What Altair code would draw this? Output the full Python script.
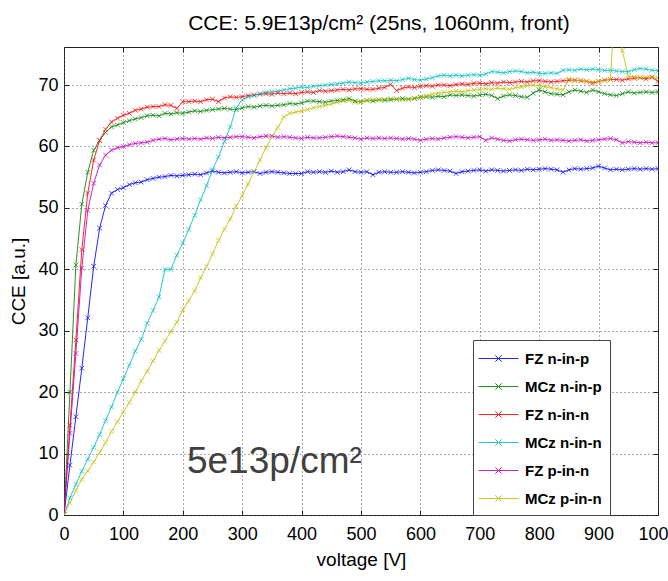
import altair as alt
import pandas as pd

voltage = list(range(0, 1001, 10))

fz_n_in_p = [0, 8.1, 16.0, 23.9, 32.1, 40.5, 46.7, 50.4, 52.4, 53.0, 53.3,
             53.8, 54.1, 54.2, 54.6, 54.8, 55.0, 55.1, 55.3, 55.2, 55.3,
             55.4, 55.5, 55.4, 55.7, 56.0, 55.8, 55.7, 55.8, 55.9, 55.7,
             55.8, 55.9, 55.6, 55.8, 55.9, 55.8, 55.7, 55.6, 55.6, 55.6,
             55.9, 55.8, 55.9, 55.8, 56.0, 55.8, 55.9, 56.2, 55.9, 55.8,
             55.9, 55.4, 55.8, 55.9, 55.8, 55.8, 55.9, 55.8, 55.7, 55.8,
             55.9, 56.1, 56.2, 56.1, 56.0, 55.6, 55.9, 56.0, 56.1, 56.2,
             56.0, 56.2, 56.1, 56.0, 56.1, 56.2, 56.1, 56.3, 56.2, 56.3,
             56.4, 56.3, 56.2, 55.8, 56.2, 56.4, 56.3, 56.4, 56.5, 56.8,
             56.5, 56.2, 56.3, 56.2, 56.3, 56.4, 56.3, 56.4, 56.3, 56.4]

mcz_n_in_p = [0, 20.0, 40.7, 50.6, 55.8, 59.4, 61.0, 62.3, 63.2, 63.5, 63.9,
              64.2, 64.5, 64.7, 65.0, 65.1, 65.0, 65.4, 65.3, 65.5, 65.4,
              65.6, 65.8, 65.7, 65.9, 66.0, 66.1, 66.2, 66.1, 66.0, 66.3,
              66.5, 66.4, 66.6, 66.7, 66.6, 66.7, 66.8, 67.0, 66.9, 67.1,
              67.4, 67.4, 67.3, 67.2, 67.4, 67.5, 67.6, 67.8, 67.4, 67.3,
              67.5, 67.4, 67.6, 67.5, 67.6, 67.7, 67.8, 67.7, 67.8, 68.0,
              68.1, 68.0, 68.2, 68.1, 68.4, 68.3, 68.4, 68.3, 68.2, 68.4,
              68.5, 68.3, 67.8, 68.2, 68.4, 68.3, 68.1, 68.0, 68.7, 69.2,
              68.9, 68.6, 68.5, 68.4, 68.9, 69.2, 69.0, 68.8, 69.2, 68.9,
              68.6, 68.4, 68.3, 68.6, 68.9, 68.7, 68.8, 68.9, 68.8, 68.9]

fz_n_in_n = [0, 14.6, 28.5, 43.2, 52.4, 57.8, 61.0, 62.8, 64.0, 64.6, 65.1,
             65.4, 65.9, 66.1, 66.4, 66.5, 66.5, 66.8, 66.7, 66.2, 67.3,
             67.3, 67.4, 67.3, 67.6, 67.7, 67.3, 67.9, 68.1, 68.0, 68.1,
             68.3, 68.4, 68.5, 68.6, 68.5, 68.7, 68.6, 68.7, 68.6, 68.8,
             68.9, 68.8, 69.1, 69.0, 69.1, 69.2, 69.3, 69.2, 69.4, 69.4,
             69.3, 69.3, 69.5, 69.6, 70.1, 69.1, 69.5, 69.7, 69.6, 69.8,
             69.9, 69.8, 70.0, 70.0, 69.9, 70.1, 70.2, 70.1, 70.3, 70.3,
             70.2, 70.4, 70.3, 70.5, 70.4, 70.5, 70.6, 70.5, 70.7, 70.7,
             70.6, 70.5, 70.6, 70.7, 70.8, 70.8, 70.7, 70.6, 70.3, 70.6,
             70.8, 70.9, 70.9, 70.8, 71.0, 71.1, 71.2, 71.0, 71.3, 70.6]

mcz_n_in_n = [0, 2.8, 5.0, 7.1, 9.1, 11.0, 13.1, 15.4, 17.6, 20.0, 22.2,
              24.4, 26.7, 28.6, 31.2, 33.3, 35.5, 40.0, 40.0, 42.3, 44.3,
              46.5, 48.8, 51.3, 53.6, 56.2, 58.3, 60.8, 63.2, 66.3, 67.6,
              68.1, 68.3, 68.6, 68.8, 68.9, 69.0, 69.2, 69.4, 69.5, 69.7,
              69.6, 69.8, 69.9, 70.0, 70.1, 70.2, 70.3, 70.5, 70.4, 70.3,
              70.5, 70.6, 70.7, 70.7, 70.8, 70.7, 70.9, 71.1, 70.9, 70.8,
              71.0, 71.2, 71.5, 71.6, 71.5, 71.6, 71.5, 71.6, 71.7, 71.6,
              71.8, 72.2, 72.1, 72.0, 72.2, 72.3, 72.2, 72.0, 72.1, 71.9,
              71.9, 72.0, 71.9, 72.4, 72.5, 72.4, 72.6, 72.5, 72.6, 72.5,
              72.4, 72.4, 72.3, 72.2, 72.2, 72.5, 72.7, 72.6, 72.4, 72.3]

fz_p_in_n = [0, 13.3, 26.3, 40.2, 49.6, 54.0, 57.0, 58.6, 59.4, 59.8, 60.0,
             60.3, 60.5, 60.6, 60.7, 61.0, 61.2, 61.3, 61.1, 61.2, 61.3,
             61.2, 61.3, 61.2, 61.4, 61.3, 61.5, 61.4, 61.5, 61.6, 61.6,
             61.5, 61.4, 61.6, 61.7, 61.7, 61.5, 61.6, 61.5, 61.4, 61.3,
             61.5, 61.4, 61.4, 61.5, 61.6, 61.7, 61.6, 61.5, 61.4, 61.2,
             61.4, 61.3, 61.4, 61.3, 61.4, 61.3, 61.2, 61.3, 61.2, 61.0,
             61.2, 61.3, 61.2, 61.4, 61.5, 61.6, 61.5, 61.4, 61.5, 61.6,
             61.0, 61.4, 61.2, 61.0, 60.9, 61.1, 61.2, 61.1, 61.0, 61.1,
             61.2, 61.0, 61.1, 61.0, 60.9, 61.0, 61.1, 60.9, 61.0, 61.1,
             61.2, 61.3, 61.1, 60.6, 60.8, 60.7, 60.6, 60.7, 60.6, 60.6]

mcz_p_in_n = [0, 2.0, 4.0, 5.8, 7.2, 8.6, 10.2, 11.8, 13.6, 15.2, 16.8,
              18.3, 20.0, 21.8, 23.4, 25.1, 26.8, 28.3, 29.9, 31.4, 33.4,
              34.9, 36.5, 38.6, 40.5, 42.5, 44.7, 46.5, 48.2, 50.3, 52.0,
              53.9, 55.9, 57.8, 59.8, 61.6, 63.1, 64.8, 65.4, 65.6, 65.8,
              66.0, 66.3, 66.5, 66.7, 66.9, 67.2, 67.4, 67.5, 67.2, 67.3,
              67.5, 67.6, 67.6, 67.7, 67.8, 67.7, 67.6, 67.7, 67.9, 68.1,
              68.2, 68.5, 68.7, 68.8, 68.9, 69.0, 68.9, 69.1, 69.2, 69.3,
              69.4, 69.3, 69.5, 69.4, 69.3, 69.6, 69.7, 69.9, 70.0, 69.9,
              69.7, 69.6, 69.4, 69.2, 71.0, 70.7, 70.8, 70.6, 70.5, 70.6,
              70.8, 70.9, 88.0, 75.6, 71.4, 71.3, 71.2, 71.3, 71.2, 71.2]

series_names = ["FZ n-in-p", "MCz n-in-p", "FZ n-in-n",
                "MCz n-in-n", "FZ p-in-n", "MCz p-in-n"]
series_values = [fz_n_in_p, mcz_n_in_p, fz_n_in_n,
                 mcz_n_in_n, fz_p_in_n, mcz_p_in_n]
series_colors = ["#0000ff", "#008000", "#ff0000",
                 "#00bfbf", "#bf00bf", "#bfbf00"]

x_ticks = list(range(0, 1001, 100))
y_ticks = list(range(0, 71, 10))

title_text = "CCE: 5.9E13p/cm\u00b2 (25ns, 1060nm, front)"
annotation_text = ["5e13p/cm\u00b2"]
annotation_x = [207]
annotation_y = [6.9]

rows = []
for name, vals in zip(series_names, series_values):
    for v, c in zip(voltage, vals):
        rows.append({"voltage": v, "cce": c, "sample": name})
df = pd.DataFrame(rows)
ann = pd.DataFrame({"voltage": annotation_x, "cce": annotation_y, "t": annotation_text})

FONT = "Liberation Sans"
xscale = alt.Scale(domain=[0, 1000], nice=False, zero=False)
yscale = alt.Scale(domain=[0, 76.2], nice=False, zero=False)

x_marker = "M-1,-1L1,1M-1,1L1,-1"
legend_symbol = "M-2,0L2,0M-0.32,-0.32L0.32,0.32M-0.32,0.32L0.32,-0.32"

lines = alt.Chart(df).mark_line(
    clip=True, strokeWidth=1, opacity=0.85,
    point=alt.OverlayMarkDef(shape=x_marker, filled=False, size=22,
                             strokeWidth=1, opacity=0.7, clip=True),
).encode(
    x=alt.X("voltage:Q", scale=xscale,
            axis=alt.Axis(values=x_ticks, format="d", title="voltage [V]", grid=True,
                          domain=False, ticks=True, tickSize=5, offset=-5,
                          labelFlush=False, labelOverlap=False,
                          labelPadding=10, titlePadding=7)),
    y=alt.Y("cce:Q", scale=yscale,
            axis=alt.Axis(values=y_ticks, title="CCE [a.u.]", grid=True,
                          domain=False, ticks=True, tickSize=5, offset=-5,
                          labelFlush=False, labelOverlap=False,
                          labelPadding=6, titlePadding=9)),
    color=alt.Color("sample:N",
                    scale=alt.Scale(domain=series_names, range=series_colors),
                    sort=series_names,
                    legend=alt.Legend(title=None, orient="none", legendX=409, legendY=293,
                                      symbolType=legend_symbol, symbolSize=400,
                                      symbolStrokeWidth=1, symbolOffset=7,
                                      labelOffset=16,
                                      labelFont=FONT, labelFontSize=15,
                                      labelFontWeight="bold", labelColor="black",
                                      strokeColor="#444", fillColor="white",
                                      padding=8, rowPadding=9, cornerRadius=0)),
    detail="sample:N",
)

frame = alt.Chart(df).mark_point(opacity=0, clip=True).encode(
    x=alt.X("voltage:Q", scale=xscale,
            axis=alt.Axis(orient="top", values=x_ticks, labels=False, title=None,
                          grid=False, domain=False, ticks=True, tickSize=5, offset=-5)),
    y=alt.Y("cce:Q", scale=yscale,
            axis=alt.Axis(orient="right", values=y_ticks, labels=False, title=None,
                          grid=False, domain=False, ticks=True, tickSize=5, offset=-5)),
)

note = alt.Chart(ann).mark_text(
    font=FONT, fontSize=37, color="#404040", align="left", baseline="alphabetic"
).encode(
    x=alt.X("voltage:Q", scale=xscale, axis=None),
    y=alt.Y("cce:Q", scale=yscale, axis=None),
    text="t:N",
)

chart = alt.layer(lines, frame, note).resolve_axis(
    x="independent", y="independent"
).properties(
    width=594, height=468,
    title=alt.Title(title_text, font=FONT, fontSize=21, fontWeight="normal",
                    color="black", anchor="middle", dx=18, dy=21, offset=17,
                    baseline="alphabetic"),
    autosize=alt.AutoSizeParams(type="none"),
    padding={"left": 64, "top": 47, "right": 10, "bottom": 66},
).configure_view(
    stroke="#222", strokeWidth=1
).configure_axis(
    labelFont=FONT, labelFontSize=18, labelColor="black",
    titleFont=FONT, titleFontSize=19, titleFontWeight="normal", titleColor="black",
    tickColor="#222", gridColor="#555", gridDash=[1, 3], gridOpacity=1, gridWidth=1,
)

chart.save("out.html", embed_options={"renderer": "svg", "actions": False})
